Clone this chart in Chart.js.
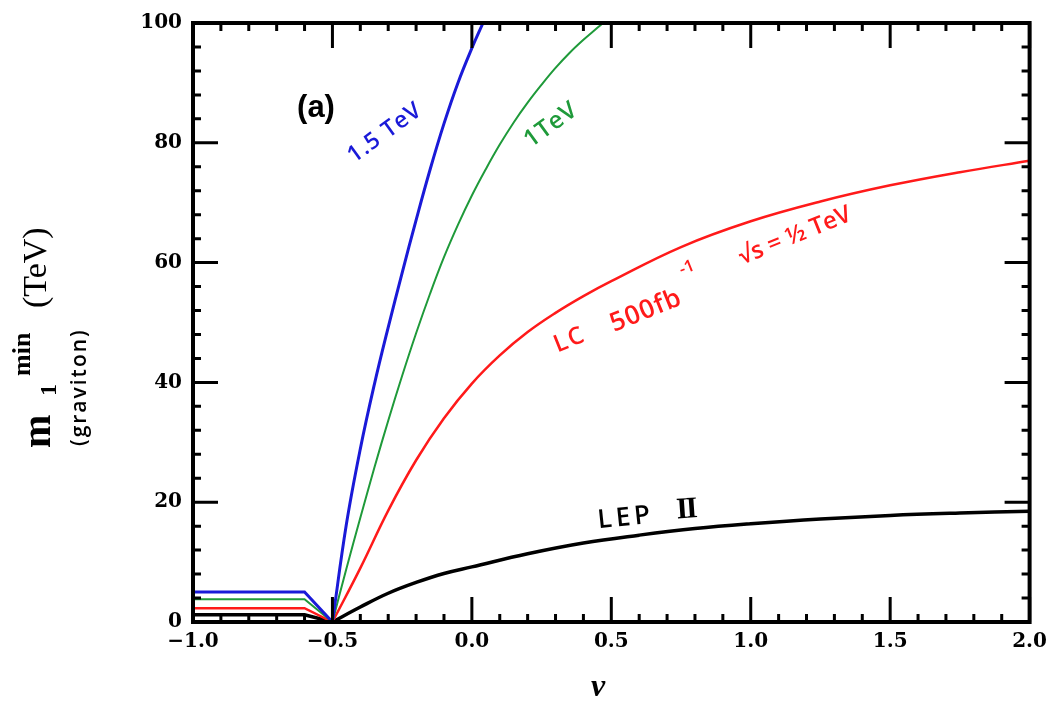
<!DOCTYPE html>
<html>
<head>
<meta charset="utf-8">
<script src="https://cdn.jsdelivr.net/npm/chart.js@4.4.1/dist/chart.umd.min.js"></script>
<style>
  html, body { margin: 0; padding: 0; background: #ffffff; }
  #wrap { width: 1055px; height: 704px; position: relative; }
</style>
</head>
<body>
<div id="wrap"><canvas id="c" width="1055" height="704"></canvas></div>
<script>
// ---- data ----
// left branch (nu <= -0.5), drawn with straight segments
const nuFlat     = [-1.0, -0.6, -0.5];
const mBlueFlat  = [5.0, 5.0, 0];
const mGreenFlat = [3.8, 3.8, 0];
const mRedFlat   = [2.3, 2.3, 0];
const mBlackFlat = [1.2, 1.2, 0];

// right branch (nu >= -0.5), smooth curves
const nuBlue  = [-0.5, -0.45, -0.4, -0.35, -0.3, -0.25, -0.2, -0.15, -0.1, -0.05, 0.0, 0.04];
const mBlue   = [0, 16.3, 28.9, 39.6, 49.2, 58.3, 67.1, 75.5, 83.2, 90.0, 95.8, 100];

const nuGreen = [-0.5, -0.45, -0.4, -0.35, -0.3, -0.25, -0.2, -0.15, -0.1, -0.05, 0.0,
                 0.05, 0.1, 0.15, 0.2, 0.25, 0.3, 0.35, 0.4, 0.45, 0.47];
const mGreen  = [0, 8.9, 17.4, 25.7, 33.6, 41.1, 48.2, 54.8, 60.9, 66.3, 71.2,
                 75.6, 79.7, 83.4, 86.7, 89.7, 92.5, 95.0, 97.2, 99.2, 100];

const nuRed   = [-0.5, -0.4, -0.3, -0.2, -0.1, 0.0, 0.1, 0.2, 0.3, 0.4, 0.5, 0.75, 1.0, 1.25, 1.5, 1.75, 2.0];
const mRed    = [0, 9.0, 18.6, 27.0, 34.0, 39.8, 44.5, 48.4, 51.6, 54.4, 56.9, 62.6, 66.9, 70.2, 72.9, 75.1, 77.0];

const nuBlack = [-0.5, -0.4, -0.3, -0.2, -0.1, 0.0, 0.2, 0.4, 0.6, 0.8, 1.0, 1.25, 1.5, 1.75, 2.0];
const mBlack  = [0, 2.5, 4.8, 6.6, 8.1, 9.2, 11.4, 13.2, 14.5, 15.6, 16.4, 17.2, 17.8, 18.2, 18.5];

const xTickValues = [-1.0, -0.5, 0.0, 0.5, 1.0, 1.5, 2.0];
const yTickValues = [0, 20, 40, 60, 80, 100];

const seriesNames  = ["1.5 TeV", "1TeV", "LC 500fb⁻¹ √s = ½ TeV", "LEP II"];
const seriesColors = ['#1a1ad8', '#1f9a3a', '#ff1a1a', '#000000'];
const seriesWidths = [3, 2, 2.5, 3.5];

// ---- helpers ----
function pts(xs, ys) { return xs.map((x, i) => ({ x: x, y: ys[i] })); }

const TICK_FONT = { family: "'DejaVu Serif', serif", weight: 'bold', size: 20 };

const framePlugin = {
  id: 'frameTicks',
  afterDatasetsDraw(chart) {
    const ctx = chart.ctx, a = chart.chartArea;
    const xs = chart.scales.x, ys = chart.scales.y;
    ctx.save();
    ctx.strokeStyle = '#000';
    ctx.lineCap = 'butt';
    ctx.lineWidth = 3;
    for (let i = 0; i <= 30; i++) {
      const v = -1.0 + i * 0.1;
      const len = (i % 5 === 0) ? 25 : 8;
      const px = xs.getPixelForValue(v);
      ctx.beginPath();
      ctx.moveTo(px, a.bottom); ctx.lineTo(px, a.bottom - len);
      ctx.moveTo(px, a.top); ctx.lineTo(px, a.top + len);
      ctx.stroke();
    }
    for (let i = 0; i <= 25; i++) {
      const v = i * 4;
      const len = (v % 20 === 0) ? 25 : 8;
      const py = ys.getPixelForValue(v);
      ctx.beginPath();
      ctx.moveTo(a.left, py); ctx.lineTo(a.left + len, py);
      ctx.moveTo(a.right, py); ctx.lineTo(a.right - len, py);
      ctx.stroke();
    }
    ctx.lineWidth = 4;
    ctx.strokeRect(a.left, a.top, a.right - a.left, a.bottom - a.top);
    ctx.restore();
  }
};

const textPlugin = {
  id: 'texts',
  afterDraw(chart) {
    const ctx = chart.ctx;
    function rtext(txt, x, y, angDeg, font, color, spacing) {
      ctx.save();
      ctx.translate(x, y);
      ctx.rotate(angDeg * Math.PI / 180);
      ctx.font = font;
      ctx.letterSpacing = (spacing || 0) + 'px';
      ctx.fillStyle = color;
      ctx.textAlign = 'center';
      ctx.textBaseline = 'middle';
      ctx.fillText(txt, 0, 0);
      ctx.restore();
    }
    const hand = "'Open Sans', 'DejaVu Sans', sans-serif";
    rtext('(a)', 316, 108, 0, "bold 31px 'Liberation Sans', Arial, sans-serif", '#000');
    rtext(seriesNames[0], 385, 133, -36, "600 23px " + hand, seriesColors[0], 1);
    rtext(seriesNames[1], 551, 125, -36, "600 24px " + hand, seriesColors[1], 1);
    rtext('LC', 570, 340, -22, "600 24px " + hand, seriesColors[2], 2);
    rtext('500fb', 646, 311, -22, "600 26px " + hand, seriesColors[2], 1);
    rtext('-1', 687, 268, -22, "600 17px " + hand, seriesColors[2], 0);
    rtext('√s = ½ TeV', 795, 236, -22, "600 24px " + hand, seriesColors[2], 0);
    rtext('LEP', 626, 518, -6, "600 26px " + hand, '#000', 4);
    rtext('II', 686, 510, -4, "bold 30px 'Liberation Serif', serif", '#000', -2);

    rtext('ν', 598, 688, 0, "italic bold 32px 'Liberation Serif', serif", '#000');

    // y-axis title (rotated)
    ctx.save();
    ctx.translate(50, 448);
    ctx.rotate(-Math.PI / 2);
    ctx.fillStyle = '#000';
    ctx.textBaseline = 'alphabetic';
    ctx.textAlign = 'left';
    ctx.font = "bold 40px 'Liberation Serif', serif";
    ctx.fillText('m', 0, 0);
    ctx.font = "bold 24px 'Liberation Serif', serif";
    ctx.fillText('1', 52, 6);
    ctx.font = "bold 26px 'Liberation Serif', serif";
    ctx.fillText('min', 72, -20);
    ctx.font = "34px 'Liberation Serif', serif";
    ctx.fillText('(TeV)', 140, -4);
    ctx.font = "600 21px " + hand;
    ctx.letterSpacing = '2px';
    ctx.fillText('(graviton)', 2, 36);
    ctx.restore();
  }
};

const datasets = [];
const flats = [mBlueFlat, mGreenFlat, mRedFlat, mBlackFlat];
const curves = [[nuBlue, mBlue], [nuGreen, mGreen], [nuRed, mRed], [nuBlack, mBlack]];
for (let i = 0; i < 4; i++) {
  datasets.push({ label: seriesNames[i], data: pts(nuFlat, flats[i]),
    borderColor: seriesColors[i], borderWidth: seriesWidths[i], tension: 0,
    pointRadius: 0, fill: false, borderJoinStyle: 'miter' });
  datasets.push({ label: seriesNames[i], data: pts(curves[i][0], curves[i][1]),
    borderColor: seriesColors[i], borderWidth: seriesWidths[i], tension: 0.4,
    pointRadius: 0, fill: false });
}

new Chart(document.getElementById('c'), {
  type: 'line',
  data: { datasets: datasets },
  options: {
    responsive: false,
    animation: false,
    devicePixelRatio: 1,
    layout: { padding: { top: 18, right: 25, left: 0, bottom: 0 } },
    plugins: { legend: { display: false }, tooltip: { enabled: false } },
    scales: {
      x: {
        type: 'linear', min: -1.0, max: 2.0,
        afterFit: s => { s.height = 82; },
        afterBuildTicks: s => { s.ticks = xTickValues.map(v => ({ value: v })); },
        grid: { display: false, drawTicks: false },
        border: { display: false },
        ticks: {
          color: '#000', font: TICK_FONT, padding: 8, maxRotation: 0,
          callback: v => v.toFixed(1).replace('-', '−')
        }
      },
      y: {
        type: 'linear', min: 0, max: 100,
        afterFit: s => { s.width = 193; },
        afterBuildTicks: s => { s.ticks = yTickValues.map(v => ({ value: v })); },
        grid: { display: false, drawTicks: false },
        border: { display: false },
        ticks: {
          color: '#000', font: TICK_FONT, padding: 11,
          callback: v => String(v)
        }
      }
    }
  },
  plugins: [framePlugin, textPlugin]
});
</script>
</body>
</html>
